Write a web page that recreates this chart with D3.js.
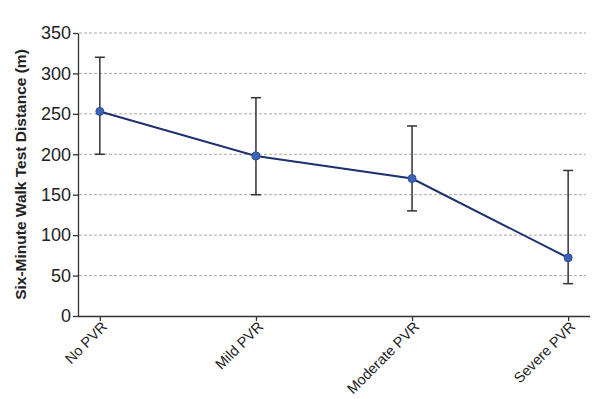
<!DOCTYPE html>
<html>
<head>
<meta charset="utf-8">
<script src="https://cdn.jsdelivr.net/npm/d3@7"></script>
<style>
  body { margin: 0; background: #fff; }
  svg { display: block; }
  text { font-family: "Liberation Sans Narrow", "Arial Narrow", "Liberation Sans", Arial, sans-serif; }
</style>
</head>
<body>
<svg id="chart"></svg>
<script>
const categories = ["No PVR", "Mild PVR", "Moderate PVR", "Severe PVR"];
const means = [253, 198, 170, 72];
const lows = [200, 150, 130, 40];
const highs = [320, 270, 235, 180];
const yTicks = [0, 50, 100, 150, 200, 250, 300, 350];

const width = 600;
const height = 399;
const margin = { top: 33, right: 10, bottom: 83, left: 78 };

const svg = d3.select("#chart")
    .attr("width", width)
    .attr("height", height);

const x = d3.scalePoint()
    .domain(categories)
    .range([margin.left, width - margin.right])
    .padding(0.14);

const y = d3.scaleLinear()
    .domain([0, 350])
    .range([height - margin.bottom, margin.top]);

// grid lines
svg.append("g")
    .selectAll("line")
    .data(yTicks.filter(d => d > 0))
    .enter()
    .append("line")
    .attr("x1", margin.left + 1)
    .attr("x2", width - 14)
    .attr("y1", d => y(d))
    .attr("y2", d => y(d))
    .attr("stroke", "#aaa")
    .attr("stroke-width", 1)
    .attr("stroke-dasharray", "3,2");

// y axis
const yAxis = svg.append("g")
    .attr("transform", `translate(${margin.left},0)`)
    .call(d3.axisLeft(y).tickValues(yTicks).tickSize(5).tickSizeOuter(0));
yAxis.selectAll("text").attr("font-size", 18).attr("fill", "#222").attr("font-family", null).attr("x", -7);
yAxis.selectAll("line, path").attr("stroke", "#333").attr("stroke-width", 1.3);

// x axis
const xAxis = svg.append("g")
    .attr("transform", `translate(0,${height - margin.bottom})`)
    .call(d3.axisBottom(x).tickSize(5).tickSizeOuter(0));
xAxis.select(".domain").attr("d", `M${margin.left},0.5H${width - margin.right}`);
xAxis.selectAll("line, path").attr("stroke", "#333").attr("stroke-width", 1.3);
xAxis.selectAll("text")
    .attr("font-size", 14.5)
    .attr("fill", "#222")
    .attr("font-family", null)
    .attr("text-anchor", "end")
    .attr("x", 0)
    .attr("y", 0)
    .attr("dy", "0.35em")
    .attr("transform", "translate(4,8) rotate(-45)");

// y label
svg.append("text")
    .attr("transform", `translate(26,${(margin.top + height - margin.bottom) / 2}) rotate(-90)`)
    .attr("text-anchor", "middle")
    .attr("font-size", 15.5)
    .attr("font-weight", "bold")
    .attr("fill", "#222")
    .text("Six-Minute Walk Test Distance (m)");

// error bars
const eb = svg.append("g")
    .selectAll("g")
    .data(categories)
    .enter()
    .append("g")
    .attr("stroke", "#333")
    .attr("stroke-width", 1.5);
eb.append("line")
    .attr("x1", d => x(d)).attr("x2", d => x(d))
    .attr("y1", (d, i) => y(lows[i])).attr("y2", (d, i) => y(highs[i]));
eb.append("line")
    .attr("x1", d => x(d) - 5).attr("x2", d => x(d) + 5)
    .attr("y1", (d, i) => y(lows[i])).attr("y2", (d, i) => y(lows[i]));
eb.append("line")
    .attr("x1", d => x(d) - 5).attr("x2", d => x(d) + 5)
    .attr("y1", (d, i) => y(highs[i])).attr("y2", (d, i) => y(highs[i]));

// mean line
const line = d3.line()
    .x((d, i) => x(categories[i]))
    .y(d => y(d));
svg.append("path")
    .datum(means)
    .attr("d", line)
    .attr("fill", "none")
    .attr("stroke", "#1d2f6f")
    .attr("stroke-width", 2);

svg.selectAll("circle.pt")
    .data(means)
    .enter()
    .append("circle")
    .attr("class", "pt")
    .attr("cx", (d, i) => x(categories[i]))
    .attr("cy", d => y(d))
    .attr("r", 4)
    .attr("fill", "#3d64b4")
    .attr("stroke", "#2a4a94")
    .attr("stroke-width", 1);
</script>
</body>
</html>
